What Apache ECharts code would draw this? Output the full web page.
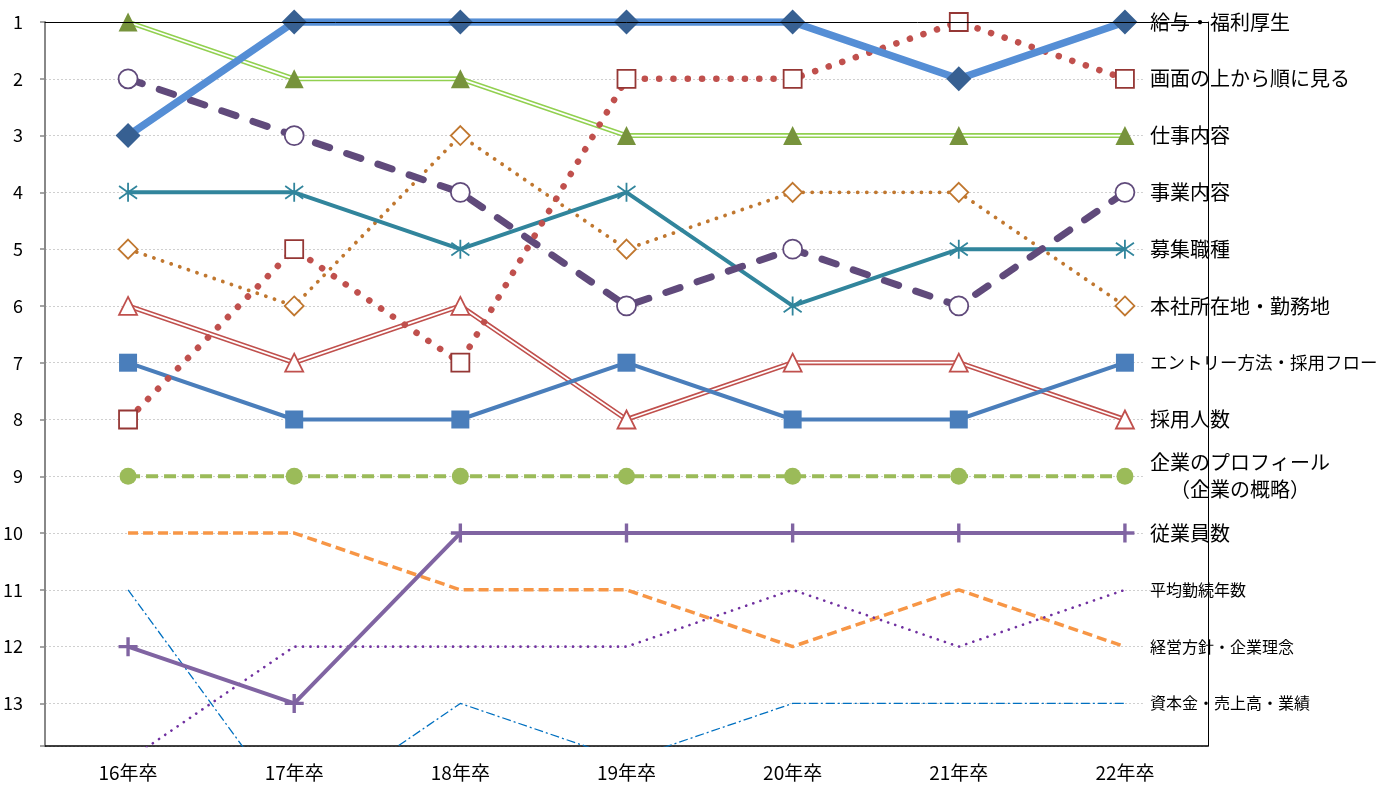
<!DOCTYPE html>
<html>
<head>
<meta charset="utf-8">
<script src="https://cdn.jsdelivr.net/npm/echarts@6/dist/echarts.min.js"></script>
<style>
html,body{margin:0;padding:0;background:#fff;}
#main{width:1381px;height:785px;}
</style>
</head>
<body>
<div id="main"></div>
<script>
// ---- data ----
var categories = ['16年卒','17年卒','18年卒','19年卒','20年卒','21年卒','22年卒'];
var yTicks = [1,2,3,4,5,6,7,8,9,10,11,12,13];
var salary      = [3,1,1,1,1,2,1];   // 給与・福利厚生
var topDown     = [8,5,7,2,2,1,2];   // 画面の上から順に見る
var jobContent  = [1,2,2,3,3,3,3];   // 仕事内容
var business    = [2,3,4,6,5,6,4];   // 事業内容
var jobType     = [4,4,5,4,6,5,5];   // 募集職種
var location_   = [5,6,3,5,4,4,6];   // 本社所在地・勤務地
var entryFlow   = [7,8,8,7,8,8,7];   // エントリー方法・採用フロー
var hireCount   = [6,7,6,8,7,7,8];   // 採用人数
var profile     = [9,9,9,9,9,9,9];   // 企業のプロフィール（企業の概略）
var employees   = [12,13,10,10,10,10,10]; // 従業員数
var tenure      = [14,12,12,12,11,12,11]; // 平均勤続年数
var philosophy  = [10,10,11,11,12,11,12]; // 経営方針・企業理念
var capital     = [11,15,13,14,13,13,13]; // 資本金・売上高・業績

var FONT = "'Noto Sans CJK JP', 'Noto Sans', sans-serif";

// asterisk marker path
function bar(x1,y1,x2,y2,h){
  var dx=x2-x1, dy=y2-y1, l=Math.sqrt(dx*dx+dy*dy);
  var nx=-dy/l*h, ny=dx/l*h;
  return 'M'+(x1+nx)+','+(y1+ny)+'L'+(x2+nx)+','+(y2+ny)+'L'+(x2-nx)+','+(y2-ny)+'L'+(x1-nx)+','+(y1-ny)+'Z';
}
var asterisk = 'path://' + bar(0,-9,0,9,0.9) + bar(-9,-6,9,6,0.9) + bar(-9,6,9,-6,0.9);
var plus = 'path://M-1.6,-9L1.6,-9L1.6,-1.6L9,-1.6L9,1.6L1.6,1.6L1.6,9L-1.6,9L-1.6,1.6L-9,1.6L-9,-1.6L-1.6,-1.6Z';

function endLabel(text, size, bg, extra){
  var o = {show:true, formatter:text, distance:18, color:'#000', fontSize:size||20,
    fontFamily:FONT, backgroundColor: bg===false ? 'transparent' : '#fff', padding:[3,4,3,7]};
  if (extra) for (var k in extra) o[k]=extra[k];
  return o;
}

function line(name, data, lineStyle, symbol, size, itemStyle, label){
  return {
    name:name, type:'line', data:data,
    lineStyle:lineStyle, symbol:symbol||'none', symbolSize:size||18,
    itemStyle:itemStyle||{color:lineStyle.color}, endLabel:label,
    showSymbol: symbol && symbol!=='none', emphasis:{disabled:true}
  };
}

var series = [
  line('資本金・売上高・業績', capital, {color:'#0070C0', width:1.3, type:[9,3,2,3]}, 'none', 0, null,
       endLabel('資本金・売上高・業績', 16)),
  line('経営方針・企業理念', philosophy, {color:'#F79646', width:3.5, type:[10,5]}, 'none', 0, null,
       endLabel('経営方針・企業理念', 16)),
  line('平均勤続年数', tenure, {color:'#7030A0', width:2.6, type:[0.1,7.4], cap:'round'}, 'none', 0, null,
       endLabel('平均勤続年数', 16, false)),
  line('従業員数', employees, {color:'#8064A2', width:4}, plus, 19, {color:'#8064A2'},
       endLabel('従業員数')),
  line('企業のプロフィール', profile, {color:'#9BBB59', width:4, type:[12,6]}, 'circle', 17, {color:'#9BBB59'},
       endLabel('{a|企業のプロフィール}\n{b|（企業の概略）}', 20, true,
         {lineHeight:27, rich:{a:{fontSize:20,fontFamily:FONT,color:'#000',lineHeight:27}, b:{fontSize:20,fontFamily:FONT,color:'#000',lineHeight:27,align:'center'}}})),
  line('採用人数', hireCount, {color:'#C0504D', width:5}, 'none', 0, null,
       endLabel('採用人数')),
  line('採用人数_inner', hireCount, {color:'#fff', width:1.8}, 'triangle', 18, {color:'#fff', borderColor:'#C0504D', borderWidth:1.8}, {show:false}),
  line('エントリー方法・採用フロー', entryFlow, {color:'#4A7EBB', width:4}, 'rect', 18, {color:'#4A7EBB'},
       endLabel('エントリー方法・採用フロー', 17.5)),
  line('本社所在地・勤務地', location_, {color:'#C0772F', width:3.8, type:[0.1,9], cap:'round'}, 'diamond', 19, {color:'#fff', borderColor:'#C0772F', borderWidth:1.8},
       endLabel('本社所在地・勤務地')),
  line('募集職種', jobType, {color:'#31859C', width:4}, asterisk, 19, {color:'#31859C'},
       endLabel('募集職種')),
  line('事業内容', business, {color:'#604A7B', width:7, type:[15,18], cap:'round'}, 'circle', 19, {color:'#fff', borderColor:'#604A7B', borderWidth:1.8},
       endLabel('事業内容')),
  line('仕事内容', jobContent, {color:'#92D050', width:5}, 'none', 0, null,
       endLabel('仕事内容')),
  line('仕事内容_inner', jobContent, {color:'#fff', width:1.8}, 'triangle', 19, {color:'#77933C'}, {show:false}),
  line('画面の上から順に見る', topDown, {color:'#C0504D', width:6.5, type:[0.1,14.2], cap:'round'}, 'rect', 18, {color:'#fff', borderColor:'#953735', borderWidth:1.8},
       endLabel('画面の上から順に見る')),
  line('給与・福利厚生', salary, {color:'#558ED5', width:7.5}, 'diamond', 25, {color:'#376092'},
       endLabel('給与・福利厚生'))
];

var chart = echarts.init(document.getElementById('main'), null, {renderer:'canvas'});
chart.setOption({
  animation:false,
  backgroundColor:'#fff',
  grid:{left:44, right:173, top:22, bottom:39, show:false},
  xAxis:[{
    type:'category', data:categories, boundaryGap:true,
    axisLine:{lineStyle:{color:'#000', width:1.5}},
    axisTick:{show:false},
    axisLabel:{color:'#000', fontSize:19, fontFamily:FONT, margin:17}
  },{
    type:'category', data:categories, boundaryGap:true, position:'top', z:5,
    axisLine:{show:true, lineStyle:{color:'#000', width:1}},
    axisTick:{show:false}, axisLabel:{show:false}, splitLine:{show:false}
  }],
  yAxis:[{
    type:'value', inverse:true, min:yTicks[0], max:13.75, interval:1,
    axisLine:{show:true, lineStyle:{color:'#888', width:2}},
    axisTick:{show:true, length:5, lineStyle:{color:'#888', width:1.5}},
    axisLabel:{color:'#000', fontSize:18, fontFamily:FONT, margin:22,
      formatter:function(v){ return yTicks.indexOf(v) >= 0 ? String(v) : ''; }},
    splitLine:{show:true, lineStyle:{color:'#CFCFCF', width:1, type:[2,2]}}
  },{
    type:'value', inverse:true, min:yTicks[0], max:13.75, interval:1, position:'right', z:5,
    axisLine:{show:true, lineStyle:{color:'#000', width:1}},
    axisTick:{show:false}, axisLabel:{show:false}, splitLine:{show:false}
  }],
  series:series
});
</script>
</body>
</html>
